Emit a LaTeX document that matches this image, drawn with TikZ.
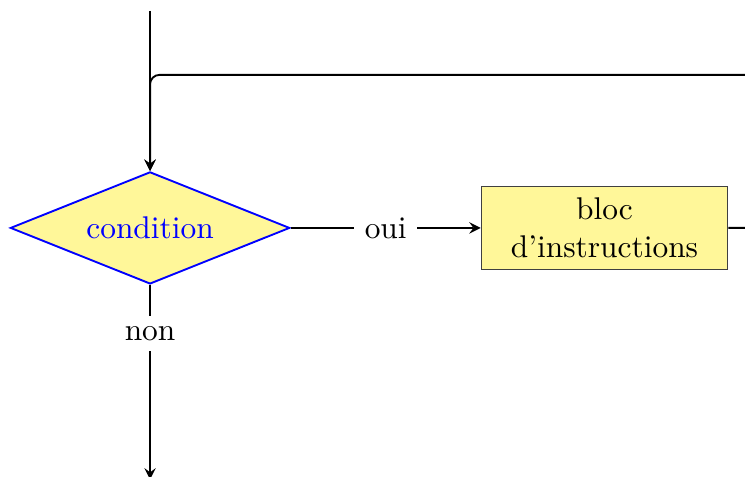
\documentclass[tikz,border=0pt]{standalone}
\usetikzlibrary{shapes.geometric,positioning}

\definecolor{jaune}{RGB}{255,247,153}

\begin{document}
\begin{tikzpicture}[
            node distance=60.5pt,
            test/.style={diamond, draw=blue, semithick, fill=jaune, text=blue, aspect=2.5, inner sep=1pt, minimum width=89pt, minimum height=35.7pt},
            bloc/.style={rectangle, draw=black!75, fill=jaune, minimum width=78.5pt, minimum height=26.4pt, align=center},
            fleche/.style={-stealth, semithick},
            etiq/.style={fill=white}
        ]
            % cadre de la figure
            \useasboundingbox (-47.8pt,-79.3pt) rectangle (189.5pt,72.6pt);
            \clip (-47.8pt,-79.3pt) rectangle (189.5pt,72.6pt);

            % Noeuds
            \node[test] (cond) at (0,0) {condition};
            \node[bloc, right=of cond] (instr) {bloc\\d'instructions};
            \coordinate[above=51pt of cond] (entree);
            \coordinate[above=30.6pt of cond] (retour);
            \coordinate[below=62pt of cond] (sortie);

            % Fleches
            \draw[fleche] (entree) -- (cond);
            \draw[fleche] (cond) -- node[etiq] {oui} (instr);
            \draw[fleche] (cond) -- node[etiq, pos=0.25] {non} (sortie);
            \draw[fleche, rounded corners=3pt] (instr.east) -- ++(15pt,0) |- (retour) -- (cond.north);
        \end{tikzpicture}
\end{document}
